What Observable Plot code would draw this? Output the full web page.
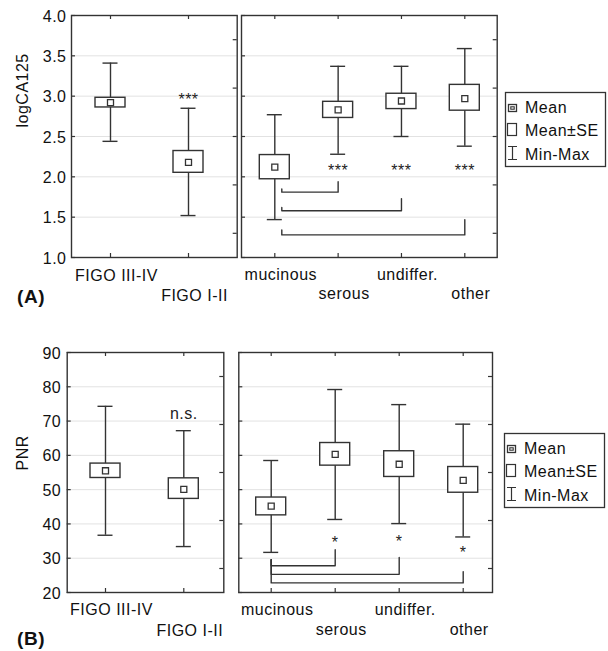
<!DOCTYPE html>
<html><head><meta charset="utf-8">
<script src="https://cdn.jsdelivr.net/npm/d3@7"></script>
<script src="https://cdn.jsdelivr.net/npm/@observablehq/plot@0.6"></script>
<style>
body{margin:0;background:#fff;}
#wrap{position:relative;width:608px;height:651px;font-family:"Liberation Sans",Arial,sans-serif;color:#111;overflow:hidden;}
.p{position:absolute;}
.p svg{display:block;}
#overlay{position:absolute;left:0;top:0;pointer-events:none;}
</style>
</head><body>
<div id="wrap"></div>
<script>
// ---------- data ----------
const figoCats = ["FIGO III-IV", "FIGO I-II"];
const histCats = ["mucinous", "serous", "undiffer.", "other"];

// logCA125 by FIGO stage
const caFigoMean = [2.92, 2.18];
const caFigoSeLow = [2.86, 2.05];
const caFigoSeHigh = [2.98, 2.32];
const caFigoMin = [2.44, 1.52];
const caFigoMax = [3.41, 2.85];
const caFigoSig = ["", "***"];
const caFigoSigY = [0, 2.99];

// logCA125 by histology
const caHistMean = [2.12, 2.83, 2.94, 2.97];
const caHistSeLow = [1.97, 2.73, 2.84, 2.82];
const caHistSeHigh = [2.27, 2.93, 3.03, 3.14];
const caHistMin = [1.47, 2.28, 2.50, 2.38];
const caHistMax = [2.77, 3.37, 3.37, 3.59];
const caHistSig = ["", "***", "***", "***"];
const caHistSigY = [0, 2.11, 2.11, 2.11];
const caBracketTarget = [1, 2, 3];
const caBracketLeftTop = [1.85, 1.62, 1.34];
const caBracketBar = [1.81, 1.58, 1.28];
const caBracketRightTop = [1.94, 1.73, 1.47];

// PNR by FIGO stage
const pnrFigoMean = [55.5, 50.1];
const pnrFigoSeLow = [53.4, 47.3];
const pnrFigoSeHigh = [57.6, 53.3];
const pnrFigoMin = [36.7, 33.4];
const pnrFigoMax = [74.3, 67.2];
const pnrFigoSig = ["", "n.s."];
const pnrFigoSigY = [0, 71.7];

// PNR by histology
const pnrHistMean = [45.2, 60.3, 57.4, 52.7];
const pnrHistSeLow = [42.5, 57.0, 53.7, 49.1];
const pnrHistSeHigh = [47.7, 63.6, 61.2, 56.6];
const pnrHistMin = [31.7, 41.3, 40.1, 36.2];
const pnrHistMax = [58.5, 79.2, 74.8, 69.1];
const pnrHistSig = ["", "*", "*", "*"];
const pnrHistSigY = [0, 35.3, 35.7, 32.3];
const pnrBracketTarget = [1, 2, 3];
const pnrBracketLeftTop = [29.6, 29.6, 29.6];
const pnrBracketBar = [27.8, 25.3, 22.8];
const pnrBracketRightTop = [32.5, 30.2, 26.1];

// axis ticks
const caTicks = [1.0, 1.5, 2.0, 2.5, 3.0, 3.5, 4.0];
const caRightTicks = [1.3, 1.9, 2.5, 3.1, 3.7];
const pnrTicks = [20, 30, 40, 50, 60, 70, 80, 90];
const pnrRightTicks = [27, 41, 55, 69, 83];

const legendItems = ["Mean", "Mean\u00B1SE", "Min-Max"];

// ---------- drawing ----------
const INK = "#333";
const FONT = "'Liberation Sans', Arial, sans-serif";
const FS = 16;

function panel(o) {
  const n = o.cats.length;
  const idx = o.cats.map((_, i) => i);
  const rows = idx.map(i => ({i, mean: o.mean[i], lo: o.lo[i], hi: o.hi[i], min: o.min[i], max: o.max[i]}));
  const [mt, mr, mb, ml] = o.margins;
  const fw = o.width - ml - mr, fh = o.height - mt - mb;
  const ppu = (o.xRange[1] - o.xRange[0]) / (n - 1);
  const hw = 15 / ppu, cw = 7.5 / ppu;
  const marks = [
    Plot.gridY(o.yTicks.slice(1, -1), {stroke: "#e2e2e2", strokeOpacity: 1}),
    Plot.frame({stroke: INK, strokeWidth: 1.4}),
    Plot.tickY(o.yTicks, {y: d => d, insetRight: fw - 4, stroke: INK, strokeWidth: 1.2}),
    Plot.tickY(o.rightTicks, {y: d => d, insetLeft: fw - 4, stroke: INK, strokeWidth: 1.2}),
    Plot.tickX(idx, {x: d => d, insetBottom: fh - 4, stroke: INK, strokeWidth: 1.2}),
    Plot.tickX(idx, {x: d => d, insetTop: fh - 4, stroke: INK, strokeWidth: 1.2}),
    Plot.ruleX(rows, {x: "i", y1: "min", y2: "max", stroke: INK, strokeWidth: 1.4}),
    Plot.ruleY(rows, {y: "max", x1: d => d.i - cw, x2: d => d.i + cw, stroke: INK, strokeWidth: 1.4}),
    Plot.ruleY(rows, {y: "min", x1: d => d.i - cw, x2: d => d.i + cw, stroke: INK, strokeWidth: 1.4}),
    Plot.rect(rows, {x1: d => d.i - hw, x2: d => d.i + hw, y1: "lo", y2: "hi", fill: "white", stroke: INK, strokeWidth: 1.4}),
    Plot.dot(rows, {x: "i", y: "mean", symbol: "square", r: 3.4, fill: "white", stroke: INK, strokeWidth: 1.3}),
    Plot.text(idx.filter(i => o.sig[i]), {x: d => d, y: d => o.sigY[d], text: d => o.sig[d], dy: o.sigDy, fontSize: FS, fill: "#222"}),
    Plot.axisX(idx.filter(i => i % 2 === 0), {tickSize: 0, tickPadding: o.rowPad[0], tickFormat: i => o.cats[i], dx: 6, fontSize: FS, label: null}),
    Plot.axisX(idx.filter(i => i % 2 === 1), {tickSize: 0, tickPadding: o.rowPad[1], tickFormat: i => o.cats[i], dx: 6, fontSize: FS, label: null})
  ];
  if (o.brackets) {
    const b = o.brackets, pts = [];
    const x0 = o.bracketShift / ppu;
    b.target.forEach((t, k) => {
      pts.push({k, x: x0, y: b.leftTop[k]}, {k, x: x0, y: b.bar[k]}, {k, x: t, y: b.bar[k]}, {k, x: t, y: b.rightTop[k]});
    });
    marks.push(Plot.line(pts, {x: "x", y: "y", z: "k", stroke: INK, strokeWidth: 1.4}));
  }
  if (o.showY) {
    marks.push(Plot.axisY(o.yTicks, {anchor: "left", tickSize: 0, tickPadding: o.yPad, tickFormat: o.yFmt, dy: 1, fontSize: FS, label: null}));
    marks.push(Plot.text([o.yLabel], {text: d => d, frameAnchor: "left", rotate: -90, dx: o.yLabelDx, dy: o.yLabelDy, fontSize: FS}));
  }
  return Plot.plot({
    width: o.width, height: o.height,
    marginTop: mt, marginRight: mr, marginBottom: mb, marginLeft: ml,
    x: {type: "linear", domain: [0, n - 1], range: o.xRange, axis: null},
    y: {type: "linear", domain: o.yDomain, axis: null},
    style: {fontFamily: FONT, fontSize: FS + "px", letterSpacing: "0.5px", color: "#111", background: "white", overflow: "visible"},
    marks
  });
}

const wrap = document.getElementById("wrap");
function place(node, left, top) {
  const d = document.createElement("div");
  d.className = "p"; d.style.left = left + "px"; d.style.top = top + "px";
  d.appendChild(node); wrap.appendChild(d);
}

place(panel({
  cats: figoCats, mean: caFigoMean, lo: caFigoSeLow, hi: caFigoSeHigh, min: caFigoMin, max: caFigoMax,
  sig: caFigoSig, sigY: caFigoSigY, sigDy: 3,
  yDomain: [1, 4], yTicks: caTicks, rightTicks: caRightTicks, yFmt: d3.format(".1f"), yPad: 5,
  width: 240, height: 310, margins: [15, 3.3, 53, 71], xRange: [110, 188], rowPad: [12.5, 32.5],
  showY: true, yLabel: "logCA125", yLabelDx: -48.5, yLabelDy: -9
}), 0, 0);

place(panel({
  cats: histCats, mean: caHistMean, lo: caHistSeLow, hi: caHistSeHigh, min: caHistMin, max: caHistMax,
  sig: caHistSig, sigY: caHistSigY, sigDy: 3,
  yDomain: [1, 4], yTicks: caTicks, rightTicks: caRightTicks,
  width: 260, height: 310, margins: [15, 3.3, 53, 1], xRange: [34.3, 224.3], rowPad: [11.5, 30.5],
  brackets: {target: caBracketTarget, leftTop: caBracketLeftTop, bar: caBracketBar, rightTop: caBracketRightTop}, bracketShift: 7
}), 240, 0);

place(panel({
  cats: figoCats, mean: pnrFigoMean, lo: pnrFigoSeLow, hi: pnrFigoSeHigh, min: pnrFigoMin, max: pnrFigoMax,
  sig: pnrFigoSig, sigY: pnrFigoSigY, sigDy: -1,
  yDomain: [20, 90], yTicks: pnrTicks, rightTicks: pnrRightTicks, yFmt: d3.format("d"), yPad: 6,
  width: 232, height: 331, margins: [32, 8.7, 59, 66.7], xRange: [105, 183.3], rowPad: [11.5, 32.5],
  showY: true, yLabel: "PNR", yLabelDx: -44, yLabelDy: -2
}), 0, 320);

place(panel({
  cats: histCats, mean: pnrHistMean, lo: pnrHistSeLow, hi: pnrHistSeHigh, min: pnrHistMin, max: pnrHistMax,
  sig: pnrHistSig, sigY: pnrHistSigY, sigDy: 3,
  yDomain: [20, 90], yTicks: pnrTicks, rightTicks: pnrRightTicks,
  width: 270, height: 331, margins: [32, 10, 59, 6.3], xRange: [38.7, 230.7], rowPad: [11.5, 31.5],
  brackets: {target: pnrBracketTarget, leftTop: pnrBracketLeftTop, bar: pnrBracketBar, rightTop: pnrBracketRightTop}, bracketShift: 0
}), 232, 320);

// ---------- overlay: panel letters and legends ----------
const svg = d3.select(wrap).append("svg").attr("id", "overlay")
  .attr("width", 608).attr("height", 651)
  .style("font-family", FONT);

svg.append("text").attr("x", 17).attr("y", 303).attr("font-size", 19).attr("font-weight", "bold")
  .attr("letter-spacing", "0.6px").attr("fill", "#111").text("(A)");
svg.append("text").attr("x", 17).attr("y", 645).attr("font-size", 19).attr("font-weight", "bold")
  .attr("letter-spacing", "0.6px").attr("fill", "#111").text("(B)");

function legend(x, y) {
  const g = svg.append("g").attr("transform", `translate(${x},${y})`);
  g.append("rect").attr("x", 0.5).attr("y", 0.5).attr("width", 100).attr("height", 74)
    .attr("fill", "white").attr("stroke", INK).attr("stroke-width", 1.3);
  const base = [21, 43.5, 68];
  // Mean icon
  g.append("rect").attr("x", 3.5).attr("y", 12.5).attr("width", 8).attr("height", 7).attr("fill", "white").attr("stroke", INK).attr("stroke-width", 1.3);
  g.append("rect").attr("x", 5.8).attr("y", 14.8).attr("width", 3.4).attr("height", 2.4).attr("fill", "white").attr("stroke", INK).attr("stroke-width", 1.1);
  // Mean±SE icon
  g.append("rect").attr("x", 2.5).attr("y", 31.5).attr("width", 9).attr("height", 12).attr("fill", "white").attr("stroke", INK).attr("stroke-width", 1.2);
  // Min-Max icon
  g.append("path").attr("d", "M3,54.5H12M7.5,54.5V67.5M3,67.5H12").attr("fill", "none").attr("stroke", INK).attr("stroke-width", 1.2);
  legendItems.forEach((t, k) => {
    g.append("text").attr("x", 20).attr("y", base[k]).attr("font-size", FS).attr("letter-spacing", "0.5px")
      .attr("fill", "#111").text(t);
  });
}
legend(505, 92);
legend(504, 433);
</script>
</body></html>
